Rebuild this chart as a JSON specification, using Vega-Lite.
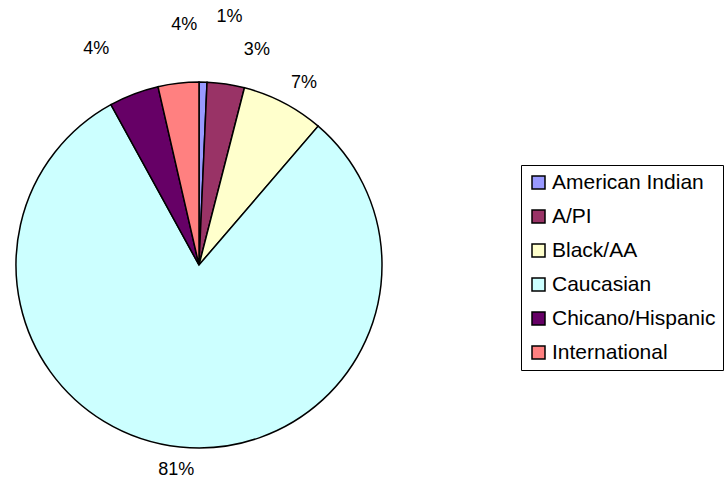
{
  "$schema": "https://vega.github.io/schema/vega-lite/v6.json",
  "width": 366,
  "height": 366,
  "autosize": {"type": "none"},
  "padding": {"left": 16, "top": 82, "right": 345, "bottom": 31},
  "background": "white",
  "config": {"view": {"stroke": null}, "font": "Liberation Sans"},
  "data": {"values": [
    {"group": "American Indian", "rank": 1, "share": 0.007},
    {"group": "A/PI", "rank": 2, "share": 0.033},
    {"group": "Black/AA", "rank": 3, "share": 0.073},
    {"group": "Caucasian", "rank": 4, "share": 0.808},
    {"group": "Chicano/Hispanic", "rank": 5, "share": 0.044},
    {"group": "International", "rank": 6, "share": 0.036}
  ]},
  "encoding": {
    "theta": {"field": "share", "type": "quantitative", "stack": true},
    "order": {"field": "rank", "type": "quantitative"}
  },
  "layer": [
    {
      "mark": {"type": "arc", "radius": 183, "stroke": "black", "strokeWidth": 1.5},
      "encoding": {
        "color": {
          "field": "group", "type": "nominal",
          "scale": {
            "domain": ["American Indian", "A/PI", "Black/AA", "Caucasian", "Chicano/Hispanic", "International"],
            "range": ["#9999FF", "#993366", "#FFFFCC", "#CCFFFF", "#660066", "#FF8080"]
          },
          "legend": {
            "title": null,
            "orient": "none",
            "legendX": 505,
            "legendY": 83,
            "direction": "vertical",
            "fillColor": "white",
            "strokeColor": "black",
            "padding": 7,
            "symbolType": "square",
            "symbolSize": 169,
            "symbolStrokeColor": "black",
            "symbolStrokeWidth": 1.5,
            "labelFont": "Liberation Sans",
            "labelFontSize": 21,
            "labelColor": "black",
            "labelOffset": 3,
            "labelLimit": 400,
            "rowPadding": 12
          }
        }
      }
    },
    {
      "mark": {"type": "text", "radius": 210, "fontSize": 18, "color": "black", "align": "center", "baseline": "middle", "dx": -1, "dy": -4},
      "encoding": {
        "text": {"condition": {"test": "datum.group === 'Caucasian'", "field": "share", "type": "quantitative", "format": ".0%"}, "value": ""}
      }
    },
    {
      "mark": {"type": "text", "radius": 210, "fontSize": 18, "color": "black", "align": "center", "baseline": "middle", "dx": 8, "dy": 4},
      "encoding": {
        "text": {"condition": {"test": "datum.group === 'Black/AA'", "field": "share", "type": "quantitative", "format": ".0%"}, "value": ""}
      }
    },
    {
      "mark": {"type": "text", "radius": 210, "fontSize": 18, "color": "black", "align": "center", "baseline": "middle", "dx": 27, "dy": -7},
      "encoding": {
        "text": {"condition": {"test": "datum.group === 'A/PI'", "field": "share", "type": "quantitative", "format": ".0%"}, "value": ""}
      }
    },
    {
      "mark": {"type": "text", "radius": 210, "fontSize": 18, "color": "black", "align": "center", "baseline": "middle", "dx": 26, "dy": -38},
      "encoding": {
        "text": {"condition": {"test": "datum.group === 'American Indian'", "field": "share", "type": "quantitative", "format": ".0%"}, "value": ""}
      }
    },
    {
      "mark": {"type": "text", "radius": 210, "fontSize": 18, "color": "black", "align": "center", "baseline": "middle", "dx": 9, "dy": -31},
      "encoding": {
        "text": {"condition": {"test": "datum.group === 'International'", "field": "share", "type": "quantitative", "format": ".0%"}, "value": ""}
      }
    },
    {
      "mark": {"type": "text", "radius": 210, "fontSize": 18, "color": "black", "align": "center", "baseline": "middle", "dx": -28, "dy": -20},
      "encoding": {
        "text": {"condition": {"test": "datum.group === 'Chicano/Hispanic'", "field": "share", "type": "quantitative", "format": ".0%"}, "value": ""}
      }
    }
  ]
}
